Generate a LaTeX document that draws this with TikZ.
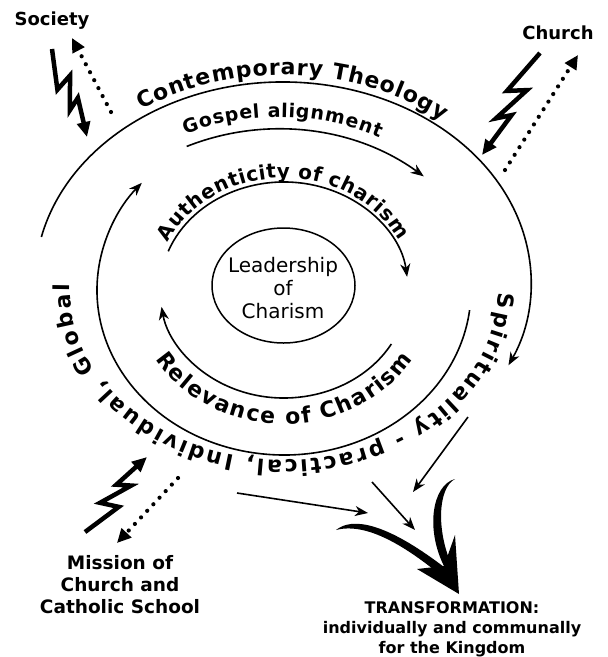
\documentclass[tikz,border=0pt]{standalone}
\usepackage{fontspec}
\setmainfont{DejaVu Sans}
\usetikzlibrary{arrows.meta,calc,decorations.text,shapes.geometric}

\begin{document}
\begin{tikzpicture}[
    x=1pt, y=1pt,
    ring/.style={line width=1.6pt},
    arrowtip/.style={-{Stealth[length=13pt,width=10pt,inset=4pt]}},
    arctext/.style={decorate, decoration={text along path, text align=fit to path}},
    bolt/.style={line width=4.5pt, line join=miter, miter limit=4,
        -{Triangle[length=15pt,width=13pt]},
        to path={-- ($(\tikztostart)!.42!(\tikztotarget)!10pt!-90:(\tikztotarget)$)
                 -- ($(\tikztostart)!.33!(\tikztotarget)!7pt!90:(\tikztotarget)$)
                 -- ($(\tikztostart)!.67!(\tikztotarget)!6pt!-90:(\tikztotarget)$)
                 -- ($(\tikztostart)!.58!(\tikztotarget)!6pt!90:(\tikztotarget)$)
                 -- (\tikztotarget)}},
    dots/.style={line width=4.2pt, line cap=round, dash pattern=on 0pt off 9pt,
        -{Triangle[length=14pt,width=13pt]}},
    boxtext/.style={font=\bfseries\fontsize{18}{22}\selectfont, align=center, inner sep=0pt}
]
\useasboundingbox (0,0) rectangle (608,-657);

% centres of the rings
\coordinate (outer) at (283,-282);
\coordinate (mid) at (284,-290);
\coordinate (gosp) at (278,-377);

% outer labels
\node[boxtext] (society) at (52,-21) {Society};
\node[boxtext] (church) at (558,-33) {Church};
\node[boxtext, font=\bfseries\fontsize{18.5}{22}\selectfont] (mission) at (120,-585)
    {Mission of\\Church and\\Catholic School};
\node[boxtext, font=\bfseries\fontsize{16}{20}\selectfont] (transform) at (452,-629)
    {TRANSFORMATION:\\individually and communally\\for the Kingdom};

% centre
\node[ellipse, draw, line width=1.5pt, minimum width=143pt, minimum height=115pt] (lead) at (283.5,-285.5) {};
\node[align=center, font=\fontsize{20}{23}\selectfont, inner sep=0pt] (leadtext) at (283,-288)
    {Leadership\\of\\Charism};

% rings
\draw[ring, arrowtip] ($(outer)+(167:248 and 200)$)
    arc[start angle=167, end angle=-24.6, x radius=248, y radius=200];
\draw[ring, arrowtip] ($(gosp)+(111.6:248)$)
    arc[start angle=111.6, end angle=54, radius=248];
\draw[ring, arrowtip] ($(mid)+(-7:187 and 165)$)
    arc[start angle=-7, end angle=-220.5, x radius=187, y radius=165];
\draw[ring, arrowtip] ($(mid)+(159:124 and 108)$)
    arc[start angle=159, end angle=7, x radius=124, y radius=108];
\draw[ring, arrowtip] ($(mid)+(-30:124 and 108)$)
    arc[start angle=-30, end angle=-171, x radius=124, y radius=108];

% texts along the rings
\path[arctext, decoration={raise=7pt,
    text={|\bfseries\fontsize{22}{26}\selectfont|Contemporary Theology}}]
    ($(outer)+(124:248 and 200)$) arc[start angle=124, end angle=51, x radius=248, y radius=200];
\path[arctext, decoration={raise=12pt,
    text={|\bfseries\fontsize{19}{23}\selectfont|Gospel alignment}}]
    ($(gosp)+(111:248)$) arc[start angle=111, end angle=67, radius=248];
\path[arctext, decoration={raise=4pt,
    text={|\bfseries\fontsize{20}{24}\selectfont|Authenticity of charism}}]
    ($(mid)+(155:124 and 108)$) arc[start angle=155, end angle=26, x radius=124, y radius=108];
\path[arctext, decoration={
    text={|\bfseries\fontsize{22}{26}\selectfont|Relevance of Charism}}]
    ($(mid)+(-149:150 and 134)$) arc[start angle=-149, end angle=-31, x radius=150, y radius=134];
\path[arctext, decoration={
    text={|\bfseries\fontsize{22}{26}\selectfont|Spirituality - practical, Individual, Global}}]
    ($(mid)+(-1:214 and 170)$) arc[start angle=-1, end angle=-182, x radius=214, y radius=170];

% influences in and out
\coordinate (sb1) at (52,-49);   \coordinate (sb2) at (87,-137);
\coordinate (sd1) at (111,-112); \coordinate (sd2) at (72,-38);
\coordinate (cb1) at (540,-53);  \coordinate (cb2) at (482,-155);
\coordinate (cd1) at (505,-170); \coordinate (cd2) at (578,-55);
\coordinate (mb1) at (85,-532);  \coordinate (mb2) at (147,-457);
\coordinate (md1) at (178,-478); \coordinate (md2) at (117,-543);
\draw[bolt] (sb1) to (sb2);
\draw[bolt] (cb1) to (cb2);
\draw[bolt] (mb1) to (mb2);
\draw[dots] (sd1) -- (sd2);
\draw[dots] (cd1) -- (cd2);
\draw[dots] (md1) -- (md2);

% towards transformation
\coordinate (p1) at (237,-493); \coordinate (p2) at (368,-513);
\coordinate (q1) at (372,-482); \coordinate (q2) at (415,-530);
\coordinate (r1) at (468,-417); \coordinate (r2) at (413,-492);
\draw[ring, arrowtip] (p1) -- (p2);
\draw[ring, arrowtip] (q1) -- (q2);
\draw[ring, arrowtip] (r1) -- (r2);

% big merging arrow
\fill (336,-530) .. controls (352,-517) and (385,-522) .. (444,-567)
    -- (438,-573) .. controls (385,-530) and (355,-525) .. (336,-530) -- cycle;
\fill (455,-479) .. controls (432,-485) and (425,-530) .. (445,-568)
    -- (452,-566) .. controls (436,-530) and (438,-488) .. (455,-479) -- cycle;
\fill (459,-594) -- (417,-569) -- (444,-566) -- (455,-535) -- cycle;
\end{tikzpicture}
\end{document}
